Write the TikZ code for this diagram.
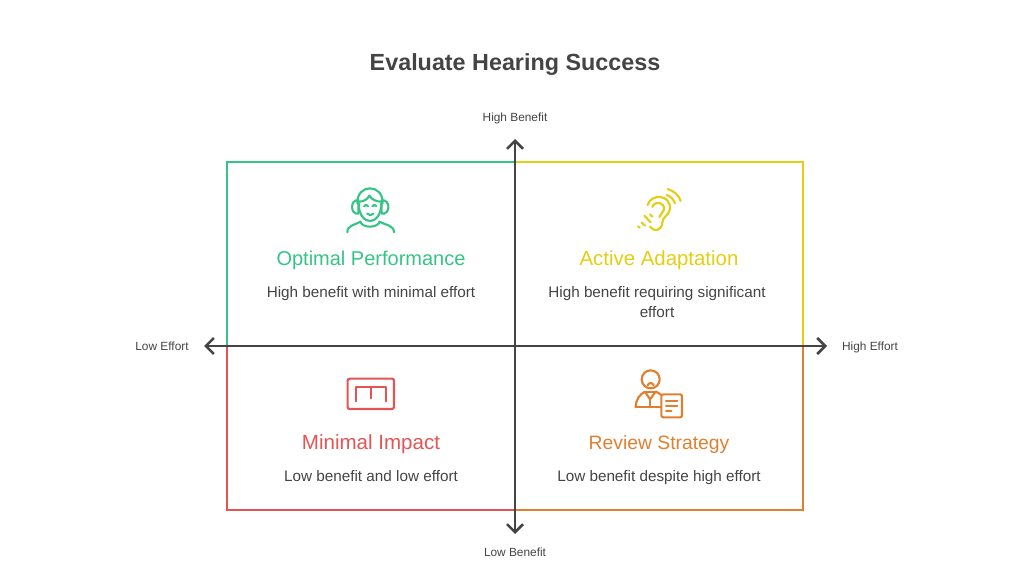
\documentclass[tikz,border=0pt]{standalone}
\usepackage{fontspec}
\setmainfont{Liberation Sans}
\usetikzlibrary{arrows.meta}
\definecolor{jet}{HTML}{444444}
\definecolor{optimal-green}{HTML}{36C486}
\definecolor{active-yellow}{HTML}{E3CE12}
\definecolor{minimal-red}{HTML}{E55454}
\definecolor{review-orange}{HTML}{E07F2F}
\tikzset{
  heading/.style={anchor=base, font=\fontsize{#1}{18}\selectfont},
  blurb/.style={anchor=base, font=\fontsize{11.45}{15}\selectfont, color=jet},
  axislabel/.style={anchor=base, font=\fontsize{8.9}{11}\selectfont, color=jet},
  axisline/.style={{Straight Barb[length=6pt,width=12pt,line width=1.9pt]}-{Straight Barb[length=6pt,width=12pt,line width=1.9pt]}, line width=1.9pt, color=jet},
  icon/.style={x=0.25pt, y=-0.25pt, line width=1.6pt, line cap=round, line join=round},
}
\begin{document}
\begin{tikzpicture}[x=0.75pt, y=-0.75pt]
  \useasboundingbox (0,0) rectangle (1030,581);
  \node[anchor=base, font=\fontsize{17.5}{22}\selectfont\bfseries, color=jet] (title) at (515,71) {Evaluate Hearing Success};
  % quadrants
  \draw[line width=1.5pt, color=optimal-green] (515,162) -- (227,162) -- (227,346);
  \draw[line width=1.5pt, color=active-yellow] (515,162) -- (803,162) -- (803,346);
  \draw[line width=1.5pt, color=minimal-red] (515,510) -- (227,510) -- (227,346);
  \draw[line width=1.5pt, color=review-orange] (515,510) -- (803,510) -- (803,346);
  % axes
  \node[axislabel] (highbenefit) at (515,122) {High Benefit};
  \node[axislabel] (lowbenefit) at (515,556.5) {Low Benefit};
  \node[axislabel] (loweffort) at (162,350) {Low Effort};
  \node[axislabel] (higheffort) at (870,350) {High Effort};
  \coordinate (top) at (515,139);
  \coordinate (bottom) at (515,534);
  \coordinate (left) at (204,346);
  \coordinate (right) at (827,346);
  \draw[axisline] (bottom) -- (top);
  \draw[axisline] (left) -- (right);
  % texts
  \node[heading=15, color=optimal-green] (optimal) at (371,265) {Optimal Performance};
  \node[blurb] (optimaltext) at (371,297) {High benefit with minimal effort};
  \node[heading=15.3, color=active-yellow] (active) at (659,265) {Active Adaptation};
  \node[blurb] (activetext) at (657,297) {High benefit requiring significant};
  \node[blurb] (activetexttwo) at (657,317) {effort};
  \node[heading=15.4, color=minimal-red] (minimal) at (371,449) {Minimal Impact};
  \node[blurb] (minimaltext) at (371,481) {Low benefit and low effort};
  \node[heading=14.5, color=review-orange] (review) at (659,449) {Review Strategy};
  \node[blurb] (reviewtext) at (659,481) {Low benefit despite high effort};
  % listener with headphones
  \begin{scope}[shift={(330,175)}, icon, color=optimal-green]
    \draw (82,85) .. controls (80,25) and (160,25) .. (158,85);
    \draw (86,85) .. controls (86,122) and (105,138) .. (120,138) .. controls (135,138) and (154,122) .. (154,85);
    \draw (85,76) .. controls (60,72) and (60,120) .. (85,116) -- cycle;
    \draw (155,76) .. controls (182,72) and (182,120) .. (155,116) -- cycle;
    \draw (87,80) .. controls (100,80) and (112,74) .. (118,62) .. controls (125,74) and (140,80) .. (153,80);
    \draw (102,94) .. controls (106,88) and (110,88) .. (114,94);
    \draw (127,94) .. controls (131,88) and (135,88) .. (139,94);
    \draw (112,116) .. controls (117,122) and (125,122) .. (130,116);
    \draw (90,140) .. controls (100,160) and (140,160) .. (150,140);
    \draw (52,172) .. controls (52,150) and (75,150) .. (92,140);
    \draw (192,172) .. controls (192,150) and (165,150) .. (148,140);
  \end{scope}
  % ear with sound waves
  \begin{scope}[shift={(620,175)}, icon, color=active-yellow]
    \draw (83,90) .. controls (92,56) and (152,56) .. (150,102) .. controls (148,120) and (128,125) .. (127,142) .. controls (126,168) and (100,172) .. (90,155);
    \draw (97,96) .. controls (105,75) and (135,82) .. (132,104) .. controls (130,112) and (120,118) .. (118,126);
    \draw (140,60) .. controls (152,64) and (160,72) .. (165,85);
    \draw (143,42) .. controls (162,48) and (176,60) .. (182,78);
    \draw (90,118) -- (97,125);
    \draw (73,122) -- (92,142);
    \draw (65,143) -- (75,152);
    \draw (54,154) -- (59,158);
  \end{scope}
  % box with brackets
  \begin{scope}[shift={(330,360)}, icon, color=minimal-red]
    \draw[rounded corners=1.5pt] (53,56) rectangle (192,147);
    \draw (77,124) -- (77,80) -- (168,80) -- (168,124);
    \draw (122,80) -- (122,115);
  \end{scope}
  % reviewer with sheet
  \begin{scope}[shift={(620,360)}, icon, color=review-orange]
    \draw (92,58) circle (27);
    \draw (83,76) .. controls (86,67) and (98,67) .. (101,76);
    \draw (47,142) .. controls (47,118) and (60,102) .. (75,95) -- (90,118) -- (107,95) .. controls (112,97) and (118,100) .. (122,104);
    \draw (75,95) -- (107,95);
    \draw (90,118) -- (90,142);
    \draw (47,142) -- (122,142);
    \draw[rounded corners=1.5pt] (124,103) rectangle (186,172);
    \draw (138,122) -- (172,122);
    \draw (138,137) -- (172,137);
    \draw (138,152) -- (155,152);
  \end{scope}
\end{tikzpicture}
\end{document}
